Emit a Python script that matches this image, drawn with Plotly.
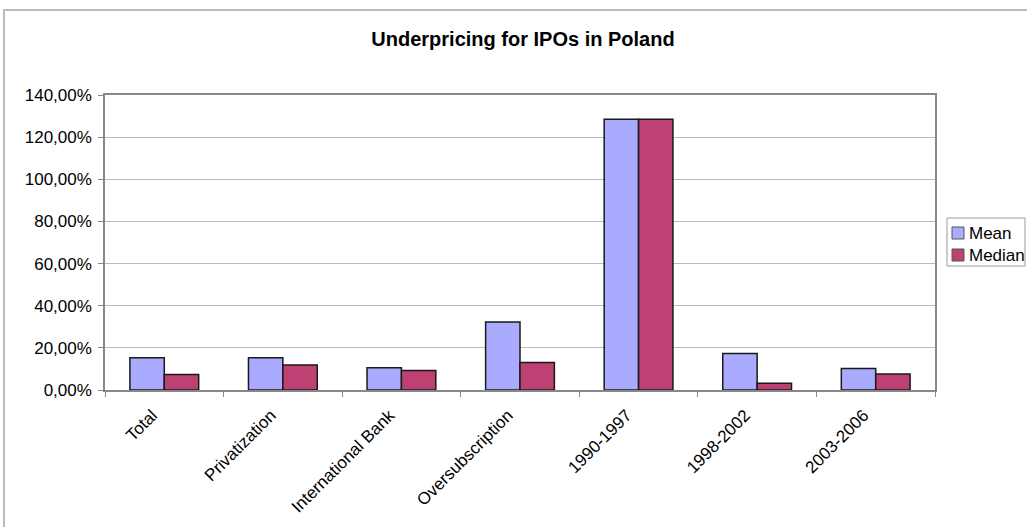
import plotly.graph_objects as go

categories = ["Total", "Privatization", "International Bank", "Oversubscription",
              "1990-1997", "1998-2002", "2003-2006"]
mean_vals = [0.153, 0.153, 0.106, 0.323, 1.285, 0.173, 0.102]
median_vals = [0.074, 0.119, 0.093, 0.131, 1.285, 0.032, 0.076]
tick_vals = [0, 0.2, 0.4, 0.6, 0.8, 1.0, 1.2, 1.4]
series_names = ["Mean", "Median"]
series_colors = ["#AAAAFF", "#BE4174"]

FONT = "Arial, Liberation Sans, sans-serif"

fig = go.Figure()
for name, vals, col in zip(series_names, [mean_vals, median_vals], series_colors):
    fig.add_trace(go.Bar(name=name, x=categories, y=vals, showlegend=False,
                         marker=dict(color=col, line=dict(color="#1a1a1a", width=1.5))))

L, R, T, B = 105, 935, 95, 390
W, H = 1027, 527


def px(x):
    return (x - L) / (R - L)


def py(y):
    return (B - y) / (B - T)


fig.update_layout(
    width=W, height=H,
    margin=dict(l=L, r=W - R, t=T, b=H - B, autoexpand=False),
    paper_bgcolor="white", plot_bgcolor="white",
    barmode="group", bargap=0.42, bargroupgap=0,
    separators=", ",
    font=dict(family=FONT, size=17, color="black"),
    showlegend=False,
    title=dict(text="<b>Underpricing for IPOs in Poland</b>", x=523 / W, xanchor="center",
               y=1 - 39 / H, yanchor="middle", font=dict(size=20, family=FONT)),
    xaxis=dict(type="category", showline=True, linecolor="#888888", linewidth=1.5, mirror=True,
               ticks="outside", tickson="boundaries", ticklen=5, tickcolor="#888888",
               tickangle=-45, showgrid=False, tickfont=dict(size=17),
               ticklabelstandoff=7, ticklabelshift=-12),
    yaxis=dict(range=[0, 1.4], tickvals=tick_vals, tickformat=".2%", showline=True,
               linecolor="#888888", linewidth=1.5, mirror=True, ticks="outside", ticklen=5,
               tickcolor="#888888", showgrid=True, gridcolor="#bbbbbb", gridwidth=1,
               zeroline=False, tickfont=dict(size=17), ticklabelstandoff=3),
)

# outer chart border
fig.add_shape(type="rect", xref="paper", yref="paper", x0=px(4), x1=px(1100),
              y0=py(600), y1=py(10), line=dict(color="#bbbbbb", width=2),
              fillcolor="rgba(0,0,0,0)", layer="below")

# legend box
fig.add_shape(type="rect", xref="paper", yref="paper", x0=px(947), x1=px(1025),
              y0=py(266), y1=py(218), line=dict(color="#999999", width=1),
              fillcolor="white")
for i, (name, col) in enumerate(zip(series_names, series_colors)):
    cy = 233 + 22 * i
    fig.add_shape(type="rect", xref="paper", yref="paper", x0=px(952), x1=px(964),
                  y0=py(cy + 6), y1=py(cy - 6), line=dict(color="#555555", width=1),
                  fillcolor=col)
    fig.add_annotation(xref="paper", yref="paper", x=px(967), y=py(cy), text=name,
                       showarrow=False, xanchor="left", yanchor="middle",
                       font=dict(size=17, family=FONT, color="black"))

fig.write_html("out.html")
